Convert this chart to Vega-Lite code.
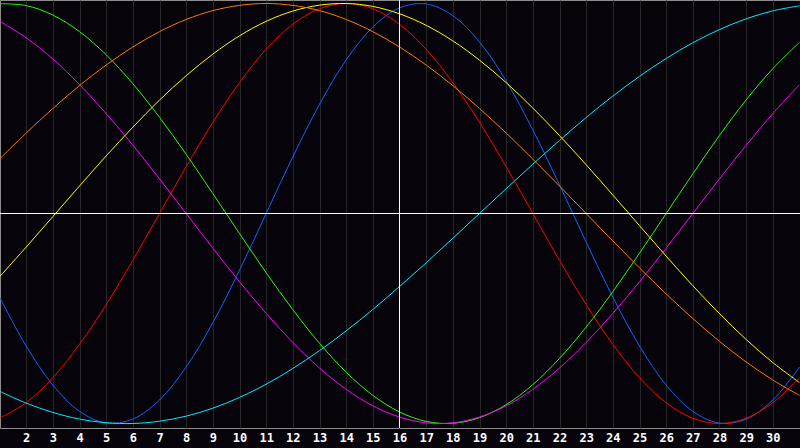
{
  "$schema": "https://vega.github.io/schema/vega-lite/v6.json",
  "width": 800,
  "height": 428,
  "autosize": {"type": "none"},
  "padding": {"left": 0, "top": 0, "right": 0, "bottom": 20},
  "background": "#06040a",
  "config": {"view": {"stroke": "#8c8c8c", "strokeWidth": 1, "fill": "#06040a"}},
  "datasets": {
    "curves": [
      {"s":"Physical","d":1,"v":-0.398},{"s":"Physical","d":2,"v":-0.631},{"s":"Physical","d":3,"v":-0.817},{"s":"Physical","d":4,"v":-0.942},{"s":"Physical","d":5,"v":-0.998},{"s":"Physical","d":6,"v":-0.979},{"s":"Physical","d":7,"v":-0.888},{"s":"Physical","d":8,"v":-0.731},{"s":"Physical","d":9,"v":-0.520},{"s":"Physical","d":10,"v":-0.270},{"s":"Physical","d":11,"v":0},{"s":"Physical","d":12,"v":0.270},{"s":"Physical","d":13,"v":0.520},{"s":"Physical","d":14,"v":0.731},{"s":"Physical","d":15,"v":0.888},{"s":"Physical","d":16,"v":0.979},{"s":"Physical","d":17,"v":0.998},{"s":"Physical","d":18,"v":0.942},{"s":"Physical","d":19,"v":0.817},{"s":"Physical","d":20,"v":0.631},{"s":"Physical","d":21,"v":0.398},{"s":"Physical","d":22,"v":0.136},{"s":"Physical","d":23,"v":-0.136},{"s":"Physical","d":24,"v":-0.398},{"s":"Physical","d":25,"v":-0.631},{"s":"Physical","d":26,"v":-0.817},{"s":"Physical","d":27,"v":-0.942},{"s":"Physical","d":28,"v":-0.998},{"s":"Physical","d":29,"v":-0.979},{"s":"Physical","d":30,"v":-0.888},{"s":"Physical","d":31,"v":-0.731},
      {"s":"Emotional","d":1,"v":-0.975},{"s":"Emotional","d":2,"v":-0.901},{"s":"Emotional","d":3,"v":-0.782},{"s":"Emotional","d":4,"v":-0.623},{"s":"Emotional","d":5,"v":-0.434},{"s":"Emotional","d":6,"v":-0.223},{"s":"Emotional","d":7,"v":0},{"s":"Emotional","d":8,"v":0.223},{"s":"Emotional","d":9,"v":0.434},{"s":"Emotional","d":10,"v":0.623},{"s":"Emotional","d":11,"v":0.782},{"s":"Emotional","d":12,"v":0.901},{"s":"Emotional","d":13,"v":0.975},{"s":"Emotional","d":14,"v":1},{"s":"Emotional","d":15,"v":0.975},{"s":"Emotional","d":16,"v":0.901},{"s":"Emotional","d":17,"v":0.782},{"s":"Emotional","d":18,"v":0.623},{"s":"Emotional","d":19,"v":0.434},{"s":"Emotional","d":20,"v":0.223},{"s":"Emotional","d":21,"v":0},{"s":"Emotional","d":22,"v":-0.223},{"s":"Emotional","d":23,"v":-0.434},{"s":"Emotional","d":24,"v":-0.623},{"s":"Emotional","d":25,"v":-0.782},{"s":"Emotional","d":26,"v":-0.901},{"s":"Emotional","d":27,"v":-0.975},{"s":"Emotional","d":28,"v":-1},{"s":"Emotional","d":29,"v":-0.975},{"s":"Emotional","d":30,"v":-0.901},{"s":"Emotional","d":31,"v":-0.782},
      {"s":"Intellectual","d":1,"v":0.999},{"s":"Intellectual","d":2,"v":0.990},{"s":"Intellectual","d":3,"v":0.945},{"s":"Intellectual","d":4,"v":0.866},{"s":"Intellectual","d":5,"v":0.756},{"s":"Intellectual","d":6,"v":0.618},{"s":"Intellectual","d":7,"v":0.458},{"s":"Intellectual","d":8,"v":0.282},{"s":"Intellectual","d":9,"v":0.095},{"s":"Intellectual","d":10,"v":-0.095},{"s":"Intellectual","d":11,"v":-0.282},{"s":"Intellectual","d":12,"v":-0.458},{"s":"Intellectual","d":13,"v":-0.618},{"s":"Intellectual","d":14,"v":-0.756},{"s":"Intellectual","d":15,"v":-0.866},{"s":"Intellectual","d":16,"v":-0.945},{"s":"Intellectual","d":17,"v":-0.990},{"s":"Intellectual","d":18,"v":-0.999},{"s":"Intellectual","d":19,"v":-0.972},{"s":"Intellectual","d":20,"v":-0.910},{"s":"Intellectual","d":21,"v":-0.815},{"s":"Intellectual","d":22,"v":-0.690},{"s":"Intellectual","d":23,"v":-0.541},{"s":"Intellectual","d":24,"v":-0.372},{"s":"Intellectual","d":25,"v":-0.189},{"s":"Intellectual","d":26,"v":0},{"s":"Intellectual","d":27,"v":0.189},{"s":"Intellectual","d":28,"v":0.372},{"s":"Intellectual","d":29,"v":0.541},{"s":"Intellectual","d":30,"v":0.690},{"s":"Intellectual","d":31,"v":0.815},
      {"s":"Intuitive","d":1,"v":0.916},{"s":"Intuitive","d":2,"v":0.837},{"s":"Intuitive","d":3,"v":0.736},{"s":"Intuitive","d":4,"v":0.614},{"s":"Intuitive","d":5,"v":0.476},{"s":"Intuitive","d":6,"v":0.325},{"s":"Intuitive","d":7,"v":0.165},{"s":"Intuitive","d":8,"v":0},{"s":"Intuitive","d":9,"v":-0.165},{"s":"Intuitive","d":10,"v":-0.325},{"s":"Intuitive","d":11,"v":-0.476},{"s":"Intuitive","d":12,"v":-0.614},{"s":"Intuitive","d":13,"v":-0.736},{"s":"Intuitive","d":14,"v":-0.837},{"s":"Intuitive","d":15,"v":-0.916},{"s":"Intuitive","d":16,"v":-0.969},{"s":"Intuitive","d":17,"v":-0.997},{"s":"Intuitive","d":18,"v":-0.997},{"s":"Intuitive","d":19,"v":-0.969},{"s":"Intuitive","d":20,"v":-0.916},{"s":"Intuitive","d":21,"v":-0.837},{"s":"Intuitive","d":22,"v":-0.736},{"s":"Intuitive","d":23,"v":-0.614},{"s":"Intuitive","d":24,"v":-0.476},{"s":"Intuitive","d":25,"v":-0.325},{"s":"Intuitive","d":26,"v":-0.165},{"s":"Intuitive","d":27,"v":0},{"s":"Intuitive","d":28,"v":0.165},{"s":"Intuitive","d":29,"v":0.325},{"s":"Intuitive","d":30,"v":0.476},{"s":"Intuitive","d":31,"v":0.614},
      {"s":"Aesthetic","d":1,"v":-0.302},{"s":"Aesthetic","d":2,"v":-0.160},{"s":"Aesthetic","d":3,"v":-0.015},{"s":"Aesthetic","d":4,"v":0.131},{"s":"Aesthetic","d":5,"v":0.274},{"s":"Aesthetic","d":6,"v":0.411},{"s":"Aesthetic","d":7,"v":0.540},{"s":"Aesthetic","d":8,"v":0.656},{"s":"Aesthetic","d":9,"v":0.759},{"s":"Aesthetic","d":10,"v":0.846},{"s":"Aesthetic","d":11,"v":0.915},{"s":"Aesthetic","d":12,"v":0.964},{"s":"Aesthetic","d":13,"v":0.992},{"s":"Aesthetic","d":14,"v":1.000},{"s":"Aesthetic","d":15,"v":0.986},{"s":"Aesthetic","d":16,"v":0.951},{"s":"Aesthetic","d":17,"v":0.896},{"s":"Aesthetic","d":18,"v":0.822},{"s":"Aesthetic","d":19,"v":0.730},{"s":"Aesthetic","d":20,"v":0.623},{"s":"Aesthetic","d":21,"v":0.502},{"s":"Aesthetic","d":22,"v":0.371},{"s":"Aesthetic","d":23,"v":0.232},{"s":"Aesthetic","d":24,"v":0.088},{"s":"Aesthetic","d":25,"v":-0.058},{"s":"Aesthetic","d":26,"v":-0.203},{"s":"Aesthetic","d":27,"v":-0.344},{"s":"Aesthetic","d":28,"v":-0.477},{"s":"Aesthetic","d":29,"v":-0.600},{"s":"Aesthetic","d":30,"v":-0.710},{"s":"Aesthetic","d":31,"v":-0.805},
      {"s":"Awareness","d":1,"v":0.259},{"s":"Awareness","d":2,"v":0.383},{"s":"Awareness","d":3,"v":0.5},{"s":"Awareness","d":4,"v":0.609},{"s":"Awareness","d":5,"v":0.707},{"s":"Awareness","d":6,"v":0.793},{"s":"Awareness","d":7,"v":0.866},{"s":"Awareness","d":8,"v":0.924},{"s":"Awareness","d":9,"v":0.966},{"s":"Awareness","d":10,"v":0.991},{"s":"Awareness","d":11,"v":1},{"s":"Awareness","d":12,"v":0.991},{"s":"Awareness","d":13,"v":0.966},{"s":"Awareness","d":14,"v":0.924},{"s":"Awareness","d":15,"v":0.866},{"s":"Awareness","d":16,"v":0.793},{"s":"Awareness","d":17,"v":0.707},{"s":"Awareness","d":18,"v":0.609},{"s":"Awareness","d":19,"v":0.5},{"s":"Awareness","d":20,"v":0.383},{"s":"Awareness","d":21,"v":0.259},{"s":"Awareness","d":22,"v":0.131},{"s":"Awareness","d":23,"v":0},{"s":"Awareness","d":24,"v":-0.131},{"s":"Awareness","d":25,"v":-0.259},{"s":"Awareness","d":26,"v":-0.383},{"s":"Awareness","d":27,"v":-0.5},{"s":"Awareness","d":28,"v":-0.609},{"s":"Awareness","d":29,"v":-0.707},{"s":"Awareness","d":30,"v":-0.793},{"s":"Awareness","d":31,"v":-0.866},
      {"s":"Spiritual","d":1,"v":-0.846},{"s":"Spiritual","d":2,"v":-0.903},{"s":"Spiritual","d":3,"v":-0.947},{"s":"Spiritual","d":4,"v":-0.979},{"s":"Spiritual","d":5,"v":-0.996},{"s":"Spiritual","d":6,"v":-1.000},{"s":"Spiritual","d":7,"v":-0.989},{"s":"Spiritual","d":8,"v":-0.965},{"s":"Spiritual","d":9,"v":-0.927},{"s":"Spiritual","d":10,"v":-0.876},{"s":"Spiritual","d":11,"v":-0.813},{"s":"Spiritual","d":12,"v":-0.738},{"s":"Spiritual","d":13,"v":-0.653},{"s":"Spiritual","d":14,"v":-0.559},{"s":"Spiritual","d":15,"v":-0.457},{"s":"Spiritual","d":16,"v":-0.348},{"s":"Spiritual","d":17,"v":-0.235},{"s":"Spiritual","d":18,"v":-0.118},{"s":"Spiritual","d":19,"v":0},{"s":"Spiritual","d":20,"v":0.118},{"s":"Spiritual","d":21,"v":0.235},{"s":"Spiritual","d":22,"v":0.348},{"s":"Spiritual","d":23,"v":0.457},{"s":"Spiritual","d":24,"v":0.559},{"s":"Spiritual","d":25,"v":0.653},{"s":"Spiritual","d":26,"v":0.738},{"s":"Spiritual","d":27,"v":0.813},{"s":"Spiritual","d":28,"v":0.876},{"s":"Spiritual","d":29,"v":0.927},{"s":"Spiritual","d":30,"v":0.965},{"s":"Spiritual","d":31,"v":0.989}
    ],
    "today": [{"d": 16}],
    "zero": [{"v": 0}]
  },
  "layer": [
    {
      "data": {"name": "curves"},
      "mark": {"type": "line", "strokeWidth": 1, "interpolate": "catmull-rom", "clip": true},
      "encoding": {
        "x": {
          "field": "d", "type": "quantitative",
          "scale": {"domain": [1.01875, 31.01875], "nice": false, "zero": false},
          "axis": {
            "values": [2,3,4,5,6,7,8,9,10,11,12,13,14,15,16,17,18,19,20,21,22,23,24,25,26,27,28,29,30],
            "tickCount": 60, "format": "d",
            "grid": true, "gridColor": "#262626", "gridWidth": 1, "gridOpacity": 1,
            "ticks": false, "domain": false, "title": null,
            "labelColor": "#ffffff", "labelFont": "DejaVu Sans Mono", "labelFontWeight": "bold",
            "labelFontSize": 12, "labelPadding": 4, "labelFlush": false, "labelOverlap": false,
            "labelBaseline": "top"
          }
        },
        "y": {
          "field": "v", "type": "quantitative",
          "scale": {"domain": [-1.0214, 1.0166], "nice": false, "zero": false},
          "axis": null
        },
        "color": {
          "field": "s", "type": "nominal",
          "scale": {
            "domain": ["Spiritual", "Awareness", "Aesthetic", "Intuitive", "Intellectual", "Emotional", "Physical"],
            "range": ["#00eeff", "#ff7a00", "#ffff00", "#ff00ff", "#22ff00", "#ff0000", "#0a64ff"]
          },
          "legend": null
        }
      }
    },
    {
      "data": {"name": "zero"},
      "mark": {"type": "rule", "color": "#ffffff", "strokeWidth": 1},
      "encoding": {"y": {"field": "v", "type": "quantitative"}}
    },
    {
      "data": {"name": "today"},
      "mark": {"type": "rule", "color": "#ffffff", "strokeWidth": 1},
      "encoding": {"x": {"field": "d", "type": "quantitative"}}
    }
  ]
}
